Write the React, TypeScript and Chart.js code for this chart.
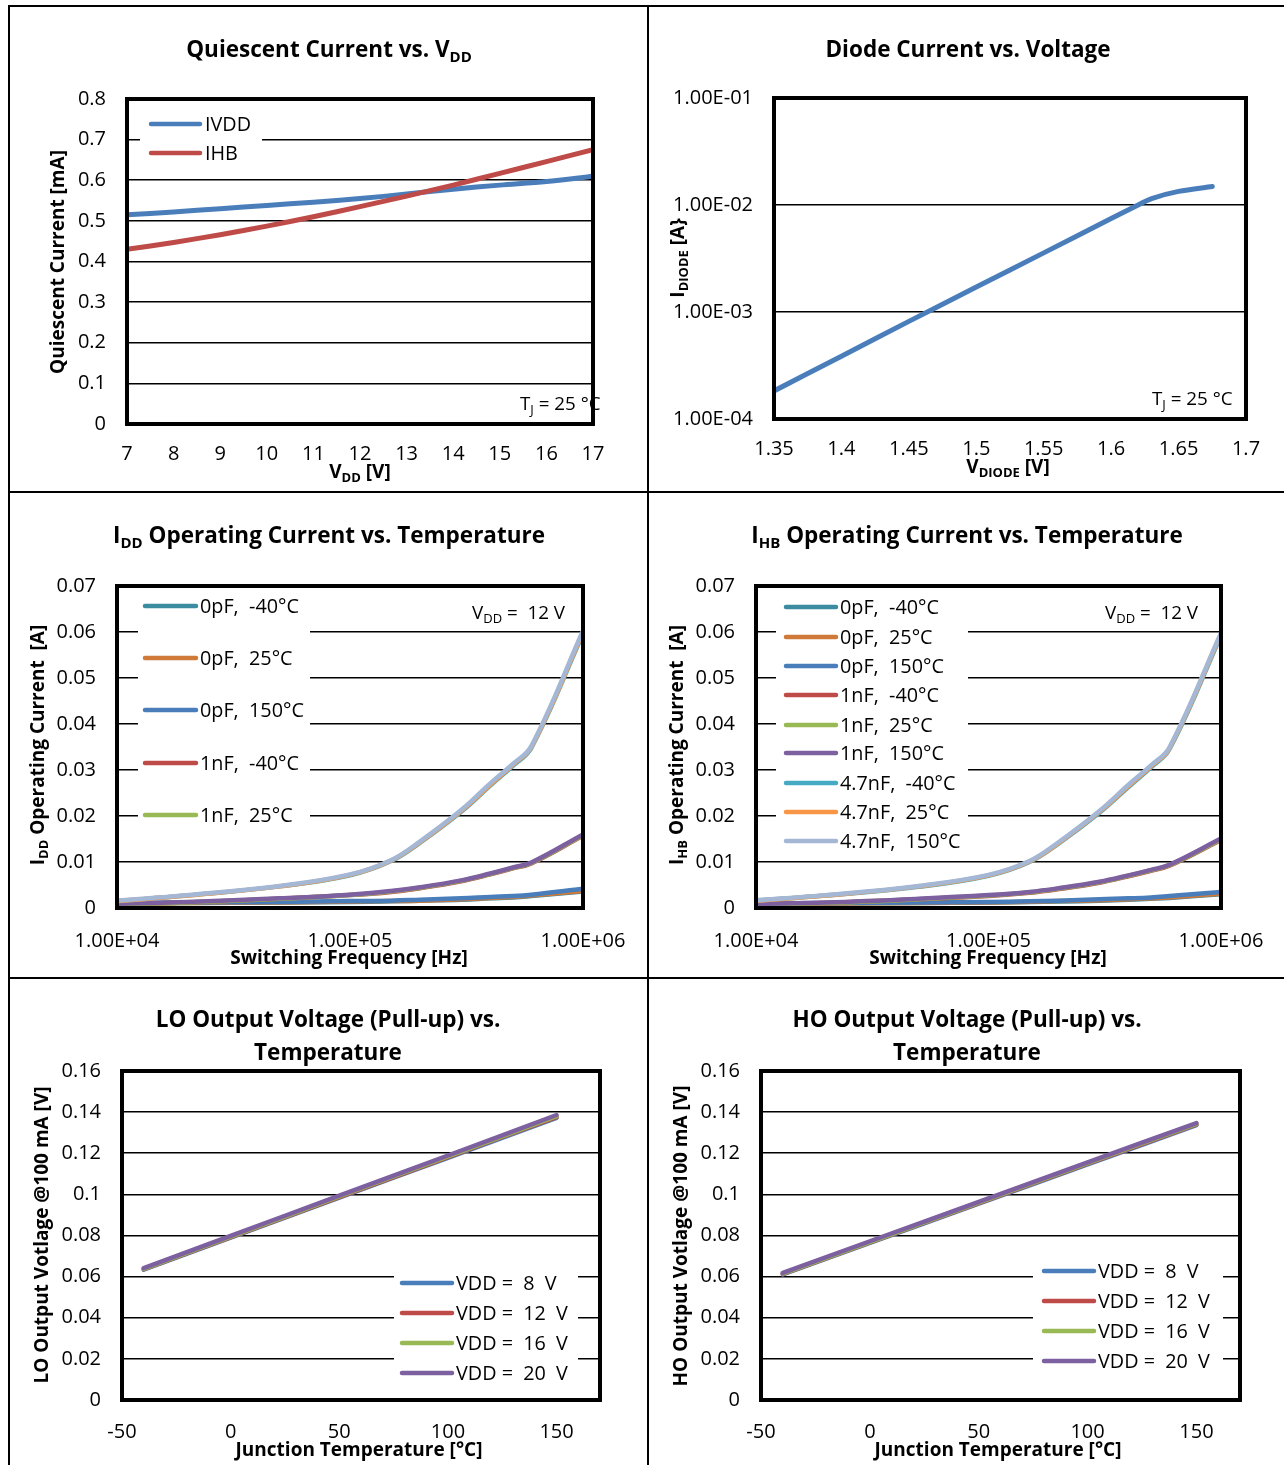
import React, { useEffect, useRef } from 'react';
import { Chart, registerables } from 'chart.js';

Chart.register(...registerables);

const FONT = '"Open Sans", Lato, "DejaVu Sans", sans-serif';

// ---------- DATA ----------
const qVdd = [7, 8, 9, 10, 11, 12, 13, 14, 15, 16, 17];
const qIVDD = [0.515, 0.522, 0.53, 0.538, 0.546, 0.555, 0.566, 0.578, 0.588, 0.597, 0.61];
const qIHB = [0.43, 0.447, 0.466, 0.487, 0.51, 0.535, 0.561, 0.588, 0.617, 0.646, 0.675];

const diodeV = [1.35, 1.4, 1.45, 1.5, 1.55, 1.6, 1.62, 1.63, 1.65, 1.675];
const diodeI = [1.83e-4, 3.86e-4, 8.17e-4, 1.71e-3, 3.57e-3, 7.48e-3, 1.0e-2, 1.15e-2, 1.34e-2, 1.49e-2];

const freqHz = [1e4, 2e4, 5e4, 1e5, 1.5e5, 2e5, 3e5, 4e5, 5e5, 6e5, 1e6];
const capLabels = ['0pF,  -40°C', '0pF,  25°C', '0pF,  150°C', '1nF,  -40°C', '1nF,  25°C', '1nF,  150°C', '4.7nF,  -40°C', '4.7nF,  25°C', '4.7nF,  150°C'];
const capColors = ['#3B8CA0', '#CF7A39', '#4A7EBB', '#BE4B48', '#98B954', '#7D60A0', '#46AAC5', '#F79646', '#A4B7D5'];

const iddSeries = [
  [0.001, 0.0011, 0.0012, 0.0013, 0.00145, 0.0016, 0.0018, 0.0021, 0.0023, 0.0026, 0.0036],
  [0.001, 0.0011, 0.0012, 0.0014, 0.0015, 0.0016, 0.0019, 0.0022, 0.0024, 0.0027, 0.0037],
  [0.0011, 0.0012, 0.0013, 0.0015, 0.0016, 0.0018, 0.0021, 0.0024, 0.0026, 0.0029, 0.0042],
  [0.0008, 0.0012, 0.002, 0.0028, 0.0035, 0.0043, 0.0058, 0.0073, 0.0086, 0.0097, 0.0157],
  [0.0008, 0.0012, 0.002, 0.0028, 0.0036, 0.0044, 0.0059, 0.0074, 0.0087, 0.0098, 0.0158],
  [0.0009, 0.0013, 0.0021, 0.0029, 0.0037, 0.0045, 0.006, 0.0075, 0.0088, 0.0099, 0.016],
  [0.0015, 0.0027, 0.0047, 0.0071, 0.0102, 0.0142, 0.0209, 0.0266, 0.0309, 0.0348, 0.0596],
  [0.0015, 0.0027, 0.0047, 0.0072, 0.0103, 0.0143, 0.0211, 0.0268, 0.0311, 0.035, 0.0599],
  [0.0016, 0.0028, 0.0048, 0.0073, 0.0104, 0.0145, 0.0213, 0.0271, 0.0313, 0.0352, 0.0603],
];

const ihbSeries = [
  [0.0009, 0.001, 0.0011, 0.0012, 0.0013, 0.0014, 0.0016, 0.0018, 0.002, 0.0022, 0.003],
  [0.0009, 0.001, 0.0011, 0.0012, 0.00135, 0.0015, 0.0017, 0.0019, 0.0021, 0.0023, 0.0031],
  [0.001, 0.0011, 0.0012, 0.0013, 0.00145, 0.0016, 0.0019, 0.0021, 0.0023, 0.0026, 0.0035],
  [0.0008, 0.0011, 0.0019, 0.0026, 0.0033, 0.0041, 0.0055, 0.0069, 0.0081, 0.0092, 0.0148],
  [0.0008, 0.0011, 0.0019, 0.0027, 0.0034, 0.0042, 0.0056, 0.007, 0.0082, 0.0093, 0.0149],
  [0.0009, 0.0012, 0.002, 0.0028, 0.0035, 0.0043, 0.0057, 0.0071, 0.0083, 0.0094, 0.0151],
  [0.0016, 0.0027, 0.0046, 0.007, 0.01, 0.014, 0.0207, 0.0263, 0.0306, 0.0345, 0.0592],
  [0.0016, 0.0027, 0.0047, 0.0071, 0.0101, 0.0141, 0.0209, 0.0265, 0.0308, 0.0347, 0.0595],
  [0.0017, 0.0028, 0.0048, 0.0072, 0.0102, 0.0143, 0.0211, 0.0268, 0.031, 0.0349, 0.0598],
];

const tempC = [-40, 0, 25, 50, 75, 100, 125, 150];
const vddLabels = ['VDD =  8  V', 'VDD =  12  V', 'VDD =  16  V', 'VDD =  20  V'];
const vddColors = ['#4A7EBB', '#BE4B48', '#98B954', '#7D60A0'];
const loSeries = [
  [0.0634, 0.079, 0.0887, 0.0984, 0.1081, 0.1178, 0.1275, 0.1372],
  [0.0636, 0.0792, 0.0889, 0.0987, 0.1084, 0.1181, 0.1279, 0.1376],
  [0.0638, 0.0795, 0.0892, 0.099, 0.1087, 0.1185, 0.1282, 0.138],
  [0.0641, 0.0798, 0.0896, 0.0994, 0.1091, 0.1189, 0.1287, 0.1386],
];
const hoSeries = [
  [0.0611, 0.0764, 0.0859, 0.0955, 0.105, 0.1146, 0.1241, 0.1337],
  [0.0613, 0.0766, 0.0862, 0.0957, 0.1053, 0.1149, 0.1244, 0.134],
  [0.0615, 0.0768, 0.0864, 0.096, 0.1056, 0.1152, 0.1248, 0.1343],
  [0.0618, 0.0772, 0.0868, 0.0964, 0.106, 0.1156, 0.1252, 0.1347],
];

// ---------- HELPERS ----------
type Seg = { t: string; sub?: boolean };
const s = (t: string): Seg => ({ t });
const sb = (t: string): Seg => ({ t, sub: true });

interface TextItem { segs: Seg[]; x: number; y: number; size: number; bold?: boolean; align?: 'left' | 'center'; rot?: boolean }
interface Series { label: string; color: string; xs: number[]; ys: number[] }
interface LegendCfg { x1: number; x2: number; tx: number; ys: number[]; box: { l: number; t: number; r: number; b: number }; size: number }
interface PanelCfg {
  x: number; y: number; w: number; h: number;
  area: { l: number; t: number; r: number; b: number };
  xScale: any; yScale: any;
  xPad: number;
  series: Series[];
  lineWidth: number;
  tension: number;
  texts: TextItem[];
  legend?: LegendCfg;
}

const PAD = 2;
const TITLE = 22.5;
const AXT = 19;
const LEG = 19.8;
const ANN = 18.8;
const TICK = 20;

const fmtNum = (v: number) => String(parseFloat(Number(v).toFixed(4)));
const fmtExp = (v: number) => {
  const [m, e] = Number(v).toExponential(2).split('e');
  const n = parseInt(e, 10);
  return m + 'E' + (n < 0 ? '-' : '+') + String(Math.abs(n)).padStart(2, '0');
};
const onlyDecades = (scale: any) => {
  scale.ticks = scale.ticks.filter((t: any) => {
    const l = Math.log10(t.value);
    return Math.abs(l - Math.round(l)) < 1e-9;
  });
};

function drawRich(ctx: CanvasRenderingContext2D, it: TextItem) {
  const w = it.bold ? 'bold ' : '';
  const main = `${w}${it.size}px ${FONT}`;
  const subSize = Math.round(it.size * 0.68);
  const sub = `${w}${subSize}px ${FONT}`;
  ctx.save();
  ctx.translate(it.x, it.y);
  if (it.rot) ctx.rotate(-Math.PI / 2);
  ctx.fillStyle = '#000';
  ctx.textBaseline = 'alphabetic';
  ctx.textAlign = 'left';
  const widths = it.segs.map((g) => {
    ctx.font = g.sub ? sub : main;
    return ctx.measureText(g.t).width;
  });
  const total = widths.reduce((a, b) => a + b, 0);
  let cx = it.align === 'left' ? 0 : -total / 2;
  const base = it.size * 0.36;
  it.segs.forEach((g, i) => {
    ctx.font = g.sub ? sub : main;
    ctx.fillText(g.t, cx, g.sub ? base + it.size * 0.22 : base);
    cx += widths[i];
  });
  ctx.restore();
}

function overlay(p: PanelCfg) {
  return {
    id: 'overlay',
    beforeDatasetsDraw(chart: any) {
      if (!p.legend) return;
      const ctx = chart.ctx as CanvasRenderingContext2D;
      const b = p.legend.box;
      ctx.save();
      ctx.fillStyle = '#fff';
      ctx.fillRect(b.l - p.x, b.t - p.y, b.r - b.l, b.b - b.t);
      ctx.restore();
    },
    afterDatasetsDraw(chart: any) {
      const ctx = chart.ctx as CanvasRenderingContext2D;
      const { left, top, right, bottom } = chart.chartArea;
      ctx.save();
      ctx.strokeStyle = '#000';
      ctx.lineWidth = 4;
      ctx.lineJoin = 'miter';
      ctx.strokeRect(left, top, right - left, bottom - top);
      ctx.restore();
    },
    afterDraw(chart: any) {
      const ctx = chart.ctx as CanvasRenderingContext2D;
      if (p.legend) {
        const L = p.legend;
        L.ys.forEach((yy, i) => {
          const ds = chart.data.datasets[i];
          ctx.save();
          ctx.strokeStyle = ds.borderColor;
          ctx.lineWidth = 4.5;
          ctx.lineCap = 'round';
          ctx.beginPath();
          ctx.moveTo(L.x1 - p.x, yy - p.y);
          ctx.lineTo(L.x2 - p.x, yy - p.y);
          ctx.stroke();
          ctx.restore();
          drawRich(ctx, { segs: [s(ds.label)], x: L.tx - p.x, y: yy - p.y, size: L.size, align: 'left' });
        });
      }
      p.texts.forEach((t) => drawRich(ctx, { ...t, x: t.x - p.x, y: t.y - p.y }));
    },
  };
}

function buildConfig(p: PanelCfg): any {
  const tickFont = { family: FONT, size: TICK };
  const yW = p.area.l - p.x - PAD;
  const xH = p.y + p.h - p.area.b - PAD;
  return {
    type: 'line',
    data: {
      datasets: p.series.map((sr, i) => ({
        label: sr.label,
        data: sr.xs.map((x, j) => ({ x, y: sr.ys[j] })),
        borderColor: sr.color,
        backgroundColor: sr.color,
        borderWidth: p.lineWidth,
        pointRadius: 0,
        pointHoverRadius: 0,
        tension: p.tension,
        borderCapStyle: 'round',
        borderJoinStyle: 'round',
        fill: false,
        order: p.series.length - i,
      })),
    },
    options: {
      responsive: false,
      animation: false,
      devicePixelRatio: 1,
      events: [],
      layout: {
        padding: {
          left: PAD,
          top: p.area.t - p.y,
          right: p.x + p.w - p.area.r,
          bottom: PAD,
        },
      },
      plugins: { legend: { display: false }, title: { display: false }, tooltip: { enabled: false } },
      scales: {
        x: {
          position: 'bottom',
          ...p.xScale,
          grid: { display: false },
          border: { display: false },
          ticks: {
            font: tickFont,
            color: '#000',
            autoSkip: false,
            maxRotation: 0,
            minRotation: 0,
            padding: p.xPad,
            ...(p.xScale.ticks || {}),
          },
          afterFit: (sc: any) => { sc.height = xH; },
        },
        y: {
          position: 'left',
          ...p.yScale,
          grid: { display: true, color: '#000', lineWidth: 1.6, drawTicks: false },
          border: { display: false },
          ticks: {
            font: tickFont,
            color: '#000',
            autoSkip: false,
            padding: 21,
            ...(p.yScale.ticks || {}),
          },
          afterFit: (sc: any) => { sc.width = yW; },
        },
      },
    },
    plugins: [overlay(p)],
  };
}

// ---------- PANELS ----------
const linY = (min: number, max: number, step: number) => ({ type: 'linear', min, max, ticks: { stepSize: step, callback: (v: any) => fmtNum(v) } });
const logX = { type: 'logarithmic', min: 1e4, max: 1e6, afterBuildTicks: onlyDecades, ticks: { callback: (v: any) => fmtExp(v) } };
const tempX = { type: 'linear', min: -50, max: 170, ticks: { stepSize: 50, includeBounds: false, callback: (v: any) => fmtNum(v) } };

const panels: PanelCfg[] = [
  {
    x: 10, y: 7, w: 637, h: 484,
    area: { l: 127, t: 99, r: 593, b: 424 },
    xScale: { type: 'linear', min: 7, max: 17, ticks: { stepSize: 1, callback: (v: any) => fmtNum(v) } },
    yScale: linY(0, 0.8, 0.1),
    xPad: 10,
    series: [
      { label: 'IVDD', color: '#4A7EBB', xs: qVdd, ys: qIVDD },
      { label: 'IHB', color: '#BE4B48', xs: qVdd, ys: qIHB },
    ],
    lineWidth: 5,
    tension: 0.3,
    texts: [
      { segs: [s('Quiescent Current vs. V'), sb('DD')], x: 329, y: 49, size: TITLE, bold: true },
      { segs: [s('Quiescent Current [mA]')], x: 57, y: 262, size: AXT, bold: true, rot: true },
      { segs: [s('V'), sb('DD'), s(' [V]')], x: 360, y: 471, size: AXT, bold: true },
      { segs: [s('T'), sb('J'), s(' = 25 °C')], x: 520, y: 403, size: ANN, align: 'left' },
    ],
    legend: { x1: 151, x2: 200, tx: 205, ys: [124, 153], box: { l: 140, t: 108, r: 262, b: 168 }, size: LEG },
  },
  {
    x: 649, y: 7, w: 635, h: 484,
    area: { l: 774, t: 98, r: 1246, b: 419 },
    xScale: { type: 'linear', min: 1.35, max: 1.7, ticks: { stepSize: 0.05, callback: (v: any) => fmtNum(v) } },
    yScale: { type: 'logarithmic', min: 1e-4, max: 1e-1, afterBuildTicks: onlyDecades, ticks: { callback: (v: any) => fmtExp(v) } },
    xPad: 10,
    series: [{ label: 'IDIODE', color: '#4A7EBB', xs: diodeV, ys: diodeI }],
    lineWidth: 5,
    tension: 0.3,
    texts: [
      { segs: [s('Diode Current vs. Voltage')], x: 968, y: 49, size: TITLE, bold: true },
      { segs: [s('I'), sb('DIODE'), s(' [A}')], x: 677, y: 258, size: AXT, bold: true, rot: true },
      { segs: [s('V'), sb('DIODE'), s(' [V]')], x: 1008, y: 466, size: AXT, bold: true },
      { segs: [s('T'), sb('J'), s(' = 25 °C')], x: 1152, y: 398, size: ANN, align: 'left' },
    ],
  },
  {
    x: 10, y: 493, w: 637, h: 484,
    area: { l: 117, t: 586, r: 583, b: 908 },
    xScale: logX,
    yScale: linY(0, 0.07, 0.01),
    xPad: 13,
    series: iddSeries.map((ys, i) => ({ label: capLabels[i], color: capColors[i], xs: freqHz, ys })),
    lineWidth: 4.5,
    tension: 0.4,
    texts: [
      { segs: [s('I'), sb('DD'), s(' Operating Current vs. Temperature')], x: 329, y: 535, size: TITLE, bold: true },
      { segs: [s('I'), sb('DD'), s(' Operating Current  [A]')], x: 37, y: 745, size: AXT, bold: true, rot: true },
      { segs: [s('Switching Frequency [Hz]')], x: 349, y: 957, size: AXT, bold: true },
      { segs: [s('V'), sb('DD'), s(' =  12 V')], x: 472, y: 612, size: ANN, align: 'left' },
    ],
    legend: { x1: 145, x2: 196, tx: 200, ys: [606, 658, 710, 763, 815], box: { l: 138, t: 592, r: 310, b: 838 }, size: LEG },
  },
  {
    x: 649, y: 493, w: 635, h: 484,
    area: { l: 756, t: 586, r: 1221, b: 908 },
    xScale: logX,
    yScale: linY(0, 0.07, 0.01),
    xPad: 13,
    series: ihbSeries.map((ys, i) => ({ label: capLabels[i], color: capColors[i], xs: freqHz, ys })),
    lineWidth: 4.5,
    tension: 0.4,
    texts: [
      { segs: [s('I'), sb('HB'), s(' Operating Current vs. Temperature')], x: 967, y: 535, size: TITLE, bold: true },
      { segs: [s('I'), sb('HB'), s(' Operating Current  [A]')], x: 676, y: 745, size: AXT, bold: true, rot: true },
      { segs: [s('Switching Frequency [Hz]')], x: 988, y: 957, size: AXT, bold: true },
      { segs: [s('V'), sb('DD'), s(' =  12 V')], x: 1105, y: 612, size: ANN, align: 'left' },
    ],
    legend: { x1: 786, x2: 836, tx: 840, ys: [607, 637, 666, 695, 725, 753, 783, 812, 841], box: { l: 776, t: 592, r: 968, b: 856 }, size: LEG },
  },
  {
    x: 10, y: 979, w: 637, h: 486,
    area: { l: 122, t: 1071, r: 600, b: 1400 },
    xScale: tempX,
    yScale: linY(0, 0.16, 0.02),
    xPad: 12,
    series: loSeries.map((ys, i) => ({ label: vddLabels[i], color: vddColors[i], xs: tempC, ys })),
    lineWidth: 4.5,
    tension: 0,
    texts: [
      { segs: [s('LO Output Voltage (Pull-up) vs.')], x: 328, y: 1019, size: TITLE, bold: true },
      { segs: [s('Temperature')], x: 328, y: 1052, size: TITLE, bold: true },
      { segs: [s('LO Output Votlage @100 mA [V]')], x: 41, y: 1235, size: AXT, bold: true, rot: true },
      { segs: [s('Junction Temperature [°C]')], x: 359, y: 1449, size: AXT, bold: true },
    ],
    legend: { x1: 402, x2: 452, tx: 456, ys: [1283, 1313, 1343, 1373], box: { l: 394, t: 1268, r: 578, b: 1390 }, size: LEG },
  },
  {
    x: 649, y: 979, w: 635, h: 486,
    area: { l: 761, t: 1071, r: 1240, b: 1400 },
    xScale: tempX,
    yScale: linY(0, 0.16, 0.02),
    xPad: 12,
    series: hoSeries.map((ys, i) => ({ label: vddLabels[i], color: vddColors[i], xs: tempC, ys })),
    lineWidth: 4.5,
    tension: 0,
    texts: [
      { segs: [s('HO Output Voltage (Pull-up) vs.')], x: 967, y: 1019, size: TITLE, bold: true },
      { segs: [s('Temperature')], x: 967, y: 1052, size: TITLE, bold: true },
      { segs: [s('HO Output Votlage @100 mA [V]')], x: 680, y: 1236, size: AXT, bold: true, rot: true },
      { segs: [s('Junction Temperature [°C]')], x: 998, y: 1449, size: AXT, bold: true },
    ],
    legend: { x1: 1044, x2: 1094, tx: 1098, ys: [1271, 1301, 1331, 1361], box: { l: 1033, t: 1258, r: 1223, b: 1375 }, size: LEG },
  },
];

function Panel({ cfg }: { cfg: PanelCfg }) {
  const ref = useRef<HTMLCanvasElement>(null);
  useEffect(() => {
    const chart = new Chart(ref.current as HTMLCanvasElement, buildConfig(cfg));
    return () => chart.destroy();
  }, [cfg]);
  return (
    <canvas
      ref={ref}
      width={cfg.w}
      height={cfg.h}
      style={{ position: 'absolute', left: cfg.x, top: cfg.y, width: cfg.w, height: cfg.h }}
    />
  );
}

const lineStyle = (l: number, t: number, w: number, h: number): React.CSSProperties => ({
  position: 'absolute', left: l, top: t, width: w, height: h, background: '#000',
});

export default function App() {
  return (
    <div style={{ position: 'absolute', left: 0, top: 0, width: 1284, height: 1465, background: '#fff', overflow: 'hidden' }}>
      {panels.map((p, i) => <Panel key={i} cfg={p} />)}
      <div style={lineStyle(8, 5, 1276, 2)} />
      <div style={lineStyle(8, 491, 1276, 2)} />
      <div style={lineStyle(8, 977, 1276, 2)} />
      <div style={lineStyle(8, 5, 2, 1460)} />
      <div style={lineStyle(647, 5, 2, 1460)} />
    </div>
  );
}
